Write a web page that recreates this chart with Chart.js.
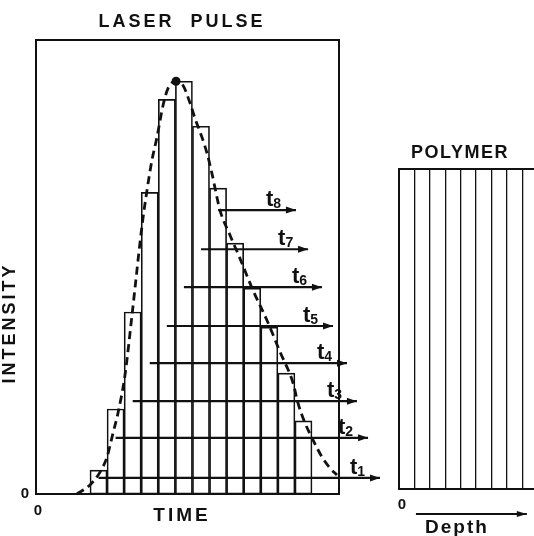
<!DOCTYPE html>
<html>
<head>
<meta charset="utf-8">
<script src="https://cdn.jsdelivr.net/npm/chart.js@4.4.1/dist/chart.umd.min.js"></script>
<style>
  html, body { margin: 0; padding: 0; background: #fff; overflow: hidden; }
  #wrap { position: relative; width: 534px; height: 536px; overflow: hidden; }
  #pulse { position: absolute; left: 0; top: 0; }
  #polymer { position: absolute; left: 360px; top: 0; }
</style>
</head>
<body>
<div id="wrap">
  <canvas id="pulse" width="534" height="536"></canvas>
  <canvas id="polymer" width="200" height="536"></canvas>
</div>
<script>
// time in slice units (0 = left edge of the box), intensity with peak = 100
const sliceTimes   = [3.66, 4.66, 5.66, 6.66, 7.66, 8.66, 9.66, 10.66, 11.66, 12.66, 13.66, 14.66, 15.66];
const sliceHeights = [5.8, 20.6, 44.1, 73.1, 95.6, 100, 89.1, 74.1, 60.8, 49.9, 40.4, 29.3, 17.7];

const curveTimes  = [2.40, 3.16, 3.75, 4.16, 4.51, 4.80, 5.21, 5.62, 6.21, 6.50, 6.79, 7.08, 7.44, 7.73, 8.20,
                     8.61, 9.02, 9.31, 9.72, 10.01, 10.30, 10.77, 11.36, 11.94, 12.70, 13.52, 14.29, 15.05,
                     15.34, 15.75, 16.16, 16.74, 17.21, 17.62];
const curveValues = [0, 2.2, 5.3, 9.0, 14.8, 19.6, 28.8, 43.3, 65.1, 73.6, 80.9, 86.4, 94.2, 98.3, 100,
                     99.0, 94.7, 91.0, 86.4, 82.6, 77.7, 68.8, 62.7, 57.1, 49.4, 42.1, 34.4, 26.9,
                     22.0, 17.2, 13.6, 9.0, 6.3, 4.6];

const arrowNames = ['1', '2', '3', '4', '5', '6', '7', '8'];
const arrowStart = [3.66, 4.66, 5.66, 6.66, 7.66, 8.66, 9.66, 10.66];
const arrowEnd   = [20.14, 19.44, 18.79, 18.21, 17.39, 16.74, 15.93, 15.22];
const arrowLevel = [3.9, 13.6, 22.5, 31.7, 40.7, 50.1, 59.3, 68.8];

const timeMax = 17.74;
const intensityMax = 110;

const layerDepths = [1, 2, 3, 4, 5, 6, 7, 8, 9];
const depthMax = 10;

const INK = '#111';
const FONT = '"Liberation Sans", Arial, sans-serif';

const peakIndex = curveValues.indexOf(Math.max(...curveValues));

function arrowHead(ctx, x, y, len, half) {
  ctx.beginPath();
  ctx.moveTo(x, y);
  ctx.lineTo(x - len, y - half);
  ctx.lineTo(x - len, y + half);
  ctx.closePath();
  ctx.fill();
}

const boxPlugin = {
  id: 'box',
  afterDatasetsDraw(chart) {
    const { ctx, chartArea: a } = chart;
    ctx.save();
    ctx.strokeStyle = INK; ctx.lineWidth = 2;
    ctx.strokeRect(a.left, a.top, a.right - a.left, a.bottom - a.top);
    ctx.restore();
  }
};

const pulseDecor = {
  id: 'pulseDecor',
  afterDraw(chart) {
    const { ctx, scales: { x, y } } = chart;
    ctx.save();
    ctx.fillStyle = INK;

    // arrow heads + t labels
    arrowEnd.forEach((t, i) => {
      const px = x.getPixelForValue(t), py = y.getPixelForValue(arrowLevel[i]);
      arrowHead(ctx, px, py, 10, 3.5);
      const lx = px - 30, ly = py - 4;
      ctx.font = 'bold 22px ' + FONT;
      ctx.textAlign = 'left'; ctx.textBaseline = 'alphabetic';
      ctx.fillText('t', lx, ly);
      const w = ctx.measureText('t').width;
      ctx.font = 'bold 14px ' + FONT;
      ctx.fillText(arrowNames[i], lx + w, ly + 2);
    });

    ctx.textAlign = 'center'; ctx.textBaseline = 'middle';
    ctx.font = 'bold 18px ' + FONT;
    ctx.letterSpacing = '3px';
    ctx.fillText('LASER  PULSE', 182, 22);
    ctx.font = 'bold 19px ' + FONT;
    ctx.fillText('TIME', 182, 516);

    ctx.translate(10, 323);
    ctx.rotate(-Math.PI / 2);
    ctx.font = 'bold 18px ' + FONT;
    ctx.fillText('INTENSITY', 0, 0);
    ctx.restore();
  }
};

new Chart(document.getElementById('pulse'), {
  type: 'bar',
  data: {
    datasets: [
      {
        type: 'line',
        data: curveTimes.map((t, i) => ({ x: t, y: curveValues[i] })),
        borderColor: INK, borderWidth: 2.8, borderDash: [8, 5],
        cubicInterpolationMode: 'monotone',
        pointRadius: c => c.dataIndex === peakIndex ? 4.5 : 0,
        pointBackgroundColor: INK, pointBorderWidth: 0,
        clip: false, order: 0
      },
      ...arrowNames.map((n, i) => ({
        type: 'line',
        data: [{ x: arrowStart[i], y: arrowLevel[i] }, { x: arrowEnd[i], y: arrowLevel[i] }],
        borderColor: INK, borderWidth: 2.2, pointRadius: 0,
        clip: false, order: 1
      })),
      {
        type: 'bar',
        data: sliceTimes.map((t, i) => ({ x: t, y: sliceHeights[i] })),
        backgroundColor: 'rgba(255,255,255,0)',
        borderColor: INK, borderWidth: 1, borderSkipped: false,
        barPercentage: 1, categoryPercentage: 1,
        order: 2
      }
    ]
  },
  options: {
    responsive: false, animation: false,
    layout: { padding: { top: 40, right: 195, left: 0, bottom: 0 } },
    plugins: { legend: { display: false }, tooltip: { enabled: false } },
    scales: {
      x: {
        type: 'linear', min: 0, max: timeMax, offset: false,
        grid: { display: false, drawTicks: false, offset: false },
        border: { display: false },
        afterBuildTicks: s => { s.ticks = [{ value: 0 }]; },
        afterFit: s => { s.height = 42; },
        ticks: { color: INK, padding: 8, labelOffset: 2, maxRotation: 0,
                 font: { family: FONT, weight: 'bold', size: 15 }, callback: () => '0' }
      },
      y: {
        min: 0, max: intensityMax,
        grid: { display: false, drawTicks: false },
        border: { display: false },
        afterBuildTicks: s => { s.ticks = [{ value: 0 }]; },
        afterFit: s => { s.width = 36; },
        ticks: { color: INK, padding: 7,
                 font: { family: FONT, weight: 'bold', size: 15 }, callback: () => '0' }
      }
    }
  },
  plugins: [boxPlugin, pulseDecor]
});

const polymerDecor = {
  id: 'polymerDecor',
  afterDraw(chart) {
    const { ctx, scales: { x } } = chart;
    ctx.save();
    ctx.fillStyle = INK; ctx.strokeStyle = INK;
    ctx.textAlign = 'center'; ctx.textBaseline = 'middle';
    ctx.font = 'bold 18px ' + FONT;
    ctx.letterSpacing = '1.5px';
    ctx.fillText('POLYMER', 100, 153);

    const x0 = x.getPixelForValue(1.1), x1 = x.getPixelForValue(8.3), ay = 514;
    ctx.lineWidth = 2;
    ctx.beginPath(); ctx.moveTo(x0, ay); ctx.lineTo(x1, ay); ctx.stroke();
    arrowHead(ctx, x1, ay, 10, 3);

    ctx.textBaseline = 'alphabetic';
    ctx.font = 'bold 19px ' + FONT;
    ctx.letterSpacing = '2px';
    ctx.fillText('Depth', 97, 533);
    ctx.restore();
  }
};

new Chart(document.getElementById('polymer'), {
  type: 'scatter',
  data: { datasets: [{ data: [] }] },
  options: {
    responsive: false, animation: false,
    layout: { padding: { top: 169, right: 7, left: 39, bottom: 0 } },
    plugins: { legend: { display: false }, tooltip: { enabled: false } },
    scales: {
      x: {
        type: 'linear', min: 0, max: depthMax,
        grid: { color: INK, lineWidth: 1.3, drawTicks: false },
        border: { display: false },
        afterBuildTicks: s => { s.ticks = [0, ...layerDepths].map(v => ({ value: v })); },
        afterFit: s => { s.height = 47; },
        ticks: { color: INK, padding: 7, labelOffset: 3, autoSkip: false, maxRotation: 0,
                 font: { family: FONT, weight: 'bold', size: 15 },
                 callback: v => v === 0 ? '0' : '' }
      },
      y: { min: 0, max: 1, display: false }
    }
  },
  plugins: [boxPlugin, polymerDecor]
});
</script>
</body>
</html>
